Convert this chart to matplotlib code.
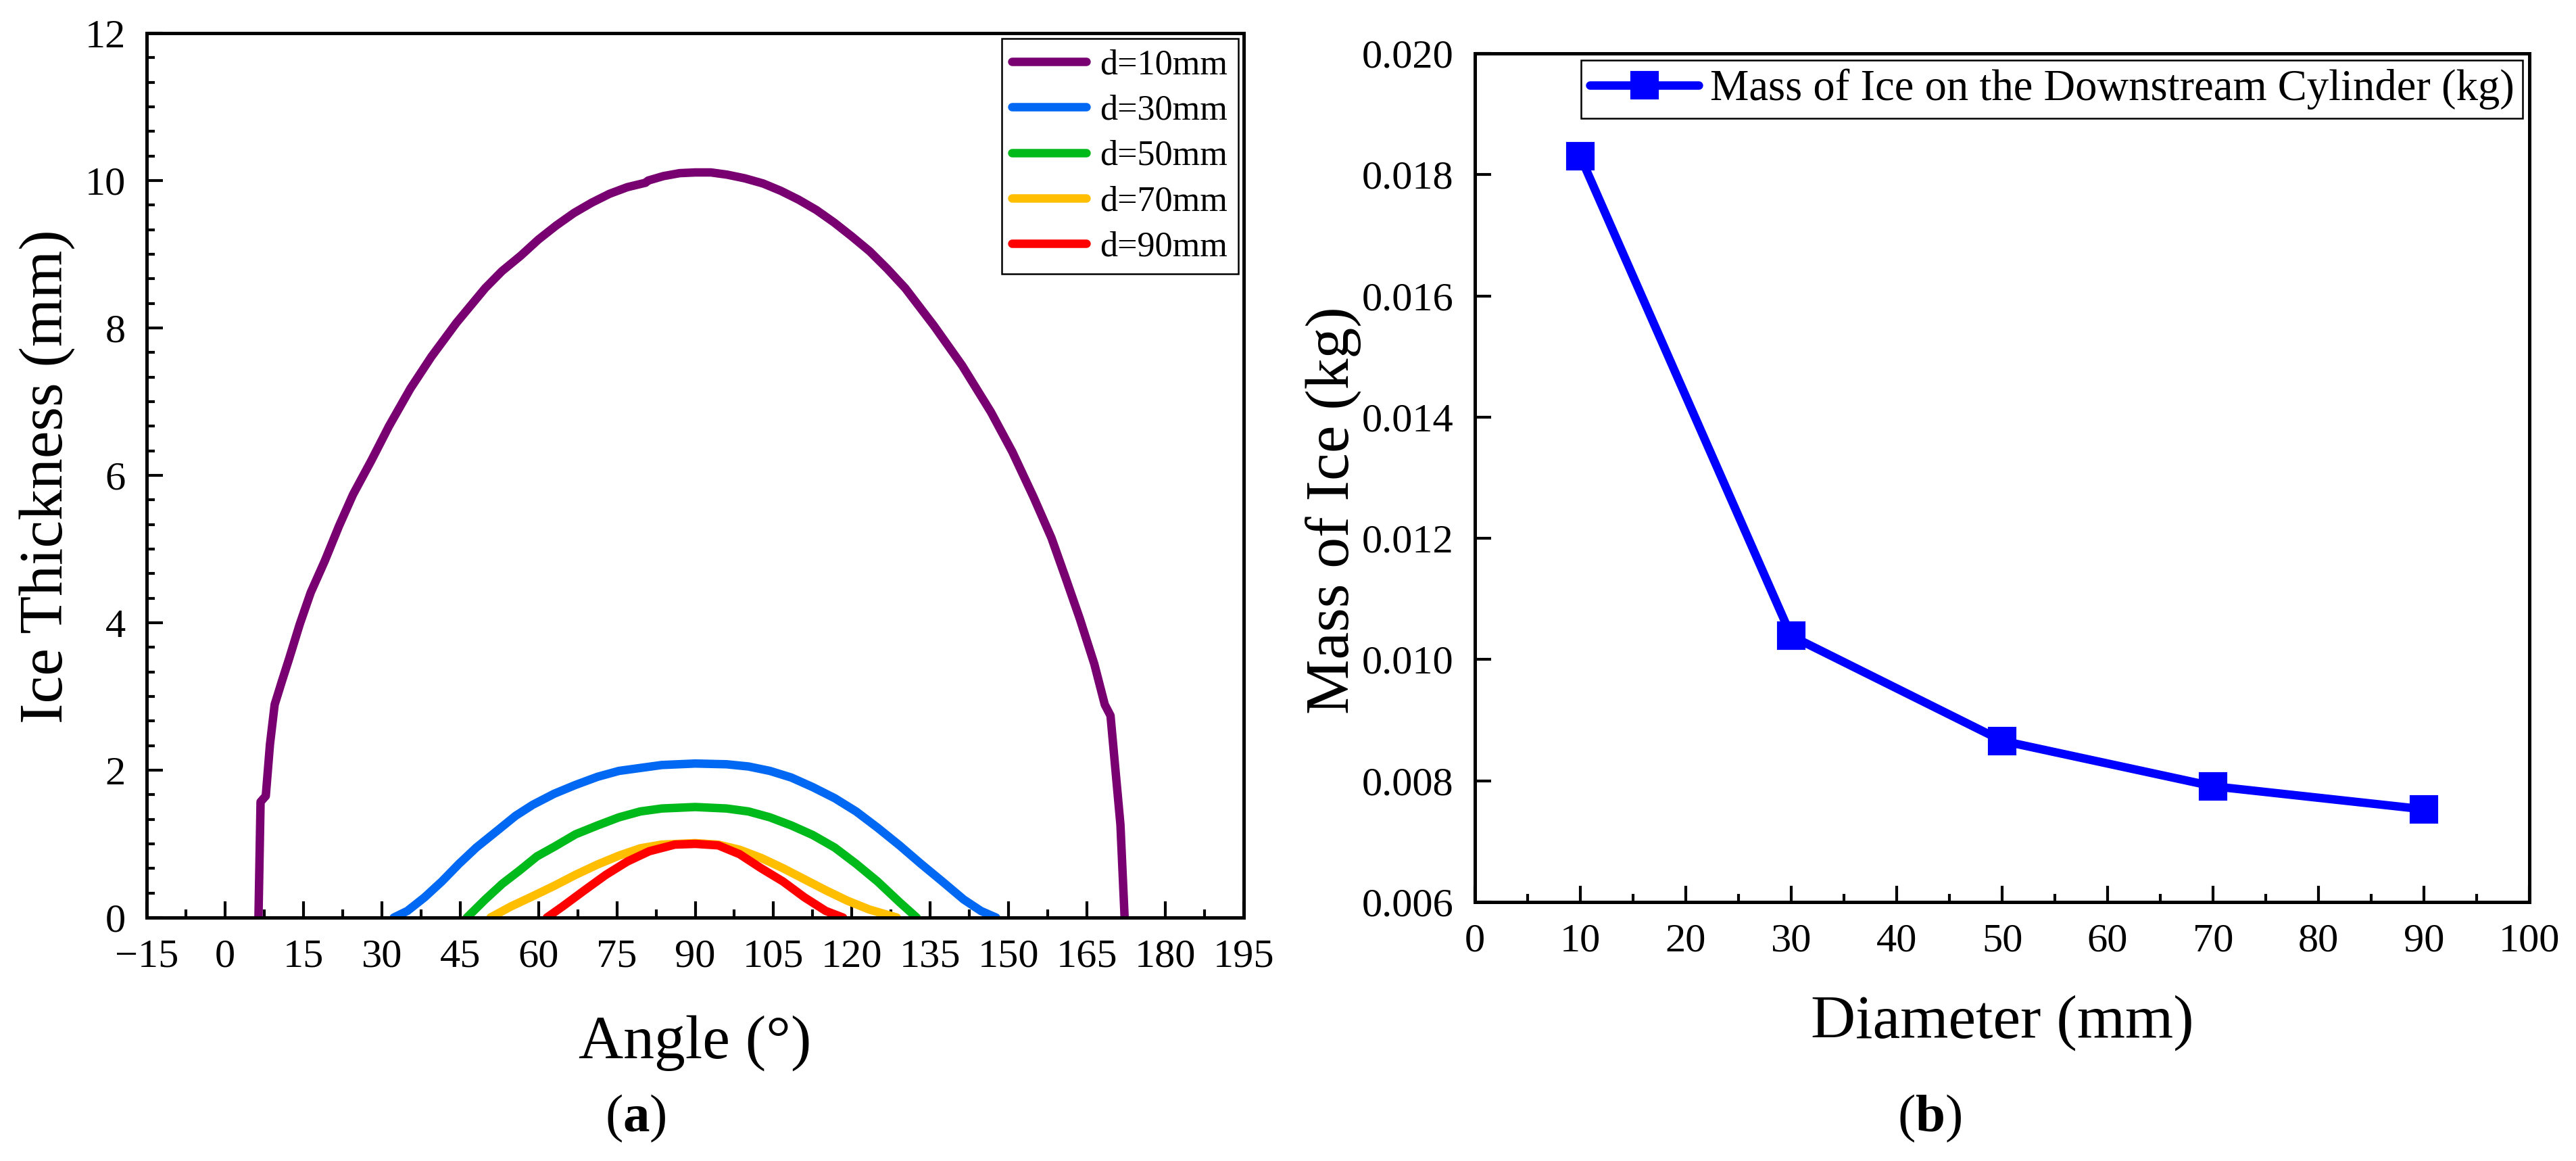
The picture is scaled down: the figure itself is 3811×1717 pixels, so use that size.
import matplotlib
matplotlib.use('Agg')
import matplotlib.pyplot as plt
from matplotlib.ticker import MultipleLocator, FormatStrFormatter

plt.rcParams['font.family'] = ['Liberation Serif', 'DejaVu Serif']
plt.rcParams['mathtext.fontset'] = 'custom'
plt.rcParams['mathtext.rm'] = 'Liberation Serif'
plt.rcParams['mathtext.bf'] = 'Liberation Serif:bold'

# ---- (a) ice thickness along the cylinder ----
ang_10 = [6.4, 6.8, 7.8, 8.6, 9.5, 10.9, 12.3, 14.3, 16.4, 19.1, 21.8, 24.5, 28.0, 31.4,
          35.5, 39.5, 44.3, 49.8, 53.0, 56.6, 60.0, 63.4, 66.8, 70.2, 73.6, 77.0, 80.5, 81.0,
          83.9, 87.0, 90.0, 93.0, 96.1, 99.5, 103.0, 106.4, 109.8, 113.2, 116.6, 120.0,
          123.4, 126.8, 130.2, 135.7, 141.1, 146.6, 150.7, 154.8, 158.2,
          160.9, 163.6, 166.4, 168.4, 169.5, 170.5, 171.4, 172.2]
thk_10 = [0.0, 1.57, 1.65, 2.35, 2.89, 3.21, 3.52, 3.98, 4.41, 4.84, 5.31, 5.74, 6.20, 6.67,
          7.18, 7.61, 8.07, 8.54, 8.77, 8.98, 9.20, 9.39, 9.56, 9.70, 9.82, 9.91, 9.97, 10.0,
          10.06, 10.10, 10.11, 10.11, 10.08, 10.03, 9.96, 9.86, 9.74, 9.60, 9.43, 9.24,
          9.04, 8.80, 8.54, 8.03, 7.49, 6.86, 6.32, 5.70, 5.15,
          4.61, 4.06, 3.44, 2.89, 2.74, 1.96, 1.26, 0.0]

ang_30 = [32.3, 34.9, 38.2, 41.5, 44.8, 48.1, 52.3, 55.6, 58.9, 63.0, 67.1, 71.3, 75.4,
          79.5, 83.6, 90.0, 96.0, 100.2, 104.3, 108.4, 112.5, 116.7, 120.8, 124.9, 129.1,
          133.2, 137.3, 141.4, 144.7, 147.6]
thk_30 = [0.0, 0.09, 0.275, 0.49, 0.73, 0.95, 1.19, 1.38, 1.53, 1.68, 1.80, 1.91, 1.99,
          2.03, 2.07, 2.09, 2.08, 2.05, 1.99, 1.90, 1.77, 1.62, 1.44, 1.22, 0.98,
          0.73, 0.49, 0.245, 0.09, 0.0]

ang_50 = [46.3, 49.8, 53.1, 56.4, 59.7, 63.0, 67.1, 71.3, 75.4, 79.5, 83.6, 90.0, 96.0,
          100.2, 104.3, 108.4, 112.5, 116.7, 120.8, 124.9, 129.1, 132.4]
thk_50 = [0.0, 0.245, 0.46, 0.64, 0.83, 0.96, 1.13, 1.25, 1.36, 1.44, 1.48, 1.50, 1.48,
          1.44, 1.36, 1.25, 1.12, 0.95, 0.73, 0.49, 0.21, 0.0]

ang_70 = [50.8, 54.7, 58.9, 63.0, 67.1, 71.3, 75.4, 79.5, 83.6, 90.0, 94.4, 98.5, 102.6,
          106.8, 110.9, 115.0, 119.1, 123.3, 128.6]
thk_70 = [0.0, 0.15, 0.29, 0.43, 0.58, 0.72, 0.84, 0.94, 0.99, 1.01, 0.99, 0.92, 0.81,
          0.67, 0.52, 0.37, 0.23, 0.11, 0.0]

ang_90 = [61.6, 64.6, 68.8, 72.9, 77.0, 81.2, 86.1, 90.0, 94.4, 98.5, 102.6, 106.8, 110.9,
          115.0, 118.3]
thk_90 = [0.0, 0.15, 0.37, 0.58, 0.76, 0.90, 0.99, 1.00, 0.98, 0.86, 0.67, 0.49, 0.275,
          0.09, 0.0]

labels_a = ['d=10mm', 'd=30mm', 'd=50mm', 'd=70mm', 'd=90mm']
colors_a = ['#780070', '#0068F2', '#00B91A', '#FFBE00', '#FF0000']

# ---- (b) mass of ice vs diameter ----
diam = [10, 30, 50, 70, 90]
mass = [0.0183, 0.01039, 0.00866, 0.00791, 0.00753]

W, H = 3811, 1717
fig = plt.figure(figsize=(W / 300, H / 300), dpi=300)
ax1 = fig.add_axes([217 / W, 1 - 1357 / H, (1840 - 217) / W, (1357 - 49) / H])
ax2 = fig.add_axes([2182 / W, 1 - 1334 / H, (3742 - 2182) / W, (1334 - 79) / H])

xs = [ang_10, ang_30, ang_50, ang_70, ang_90]
ys = [thk_10, thk_30, thk_50, thk_70, thk_90]
for x, y, lab, c in zip(xs, ys, labels_a, colors_a):
    ax1.plot(x, y, color=c, lw=3, label=lab, solid_capstyle='round', solid_joinstyle='round')

ax1.set_xlim(-15, 195)
ax1.set_ylim(0, 12)
ax1.xaxis.set_major_locator(MultipleLocator(15))
ax1.xaxis.set_minor_locator(MultipleLocator(7.5))
ax1.yaxis.set_major_locator(MultipleLocator(2))
ax1.yaxis.set_minor_locator(MultipleLocator(2 / 6))

ax2.plot(diam, mass, color='#0000FF', lw=3, marker='s', markersize=8.9,
         label='Mass of Ice on the Downstream Cylinder (kg)', solid_capstyle='round')
ax2.set_xlim(0, 100)
ax2.set_ylim(0.006, 0.020)
ax2.xaxis.set_major_locator(MultipleLocator(10))
ax2.xaxis.set_minor_locator(MultipleLocator(5))
ax2.yaxis.set_major_locator(MultipleLocator(0.002))
ax2.yaxis.set_major_formatter(FormatStrFormatter('%.3f'))

for ax in (ax1, ax2):
    for s in ax.spines.values():
        s.set_linewidth(1.2)
    ax.tick_params(which='both', direction='in', top=False, right=False,
                   labelsize=14.5, width=1.0, pad=7.5)
    ax.tick_params(which='major', length=5.8)
    ax.tick_params(which='minor', length=2.9)

leg1 = ax1.legend(loc='upper right', fontsize=12.5, fancybox=False, edgecolor='black',
                  framealpha=1, borderaxespad=0.15, handlelength=2.1, handletextpad=0.4,
                  labelspacing=0.37, borderpad=0.3)
leg1.get_frame().set_linewidth(0.6)

leg2 = ax2.legend(loc='upper right', fontsize=15.5, fancybox=False, edgecolor='black',
                  framealpha=1, borderaxespad=0.15, handlelength=2.5, handletextpad=0.25,
                  borderpad=0.2)
leg2.get_frame().set_linewidth(0.6)

# axis labels and panel tags
fig.text(92 / W, 1 - 705 / H, 'Ice Thickness (mm)', rotation=90, rotation_mode='anchor',
         ha='center', va='baseline', fontsize=22)
fig.text(1028 / W, 1 - 1565 / H, 'Angle (°)', ha='center', va='baseline', fontsize=22)
fig.text(940 / W, 1 - 1673 / H, r'($\mathbf{a}$)', ha='center', va='baseline', fontsize=19)

fig.text(1995 / W, 1 - 755 / H, 'Mass of Ice (kg)', rotation=90, rotation_mode='anchor',
         ha='center', va='baseline', fontsize=22)
fig.text(2962 / W, 1 - 1535 / H, 'Diameter (mm)', ha='center', va='baseline', fontsize=22)
fig.text(2855 / W, 1 - 1673 / H, r'($\mathbf{b}$)', ha='center', va='baseline', fontsize=19)

fig.savefig('out.png', dpi=300)
